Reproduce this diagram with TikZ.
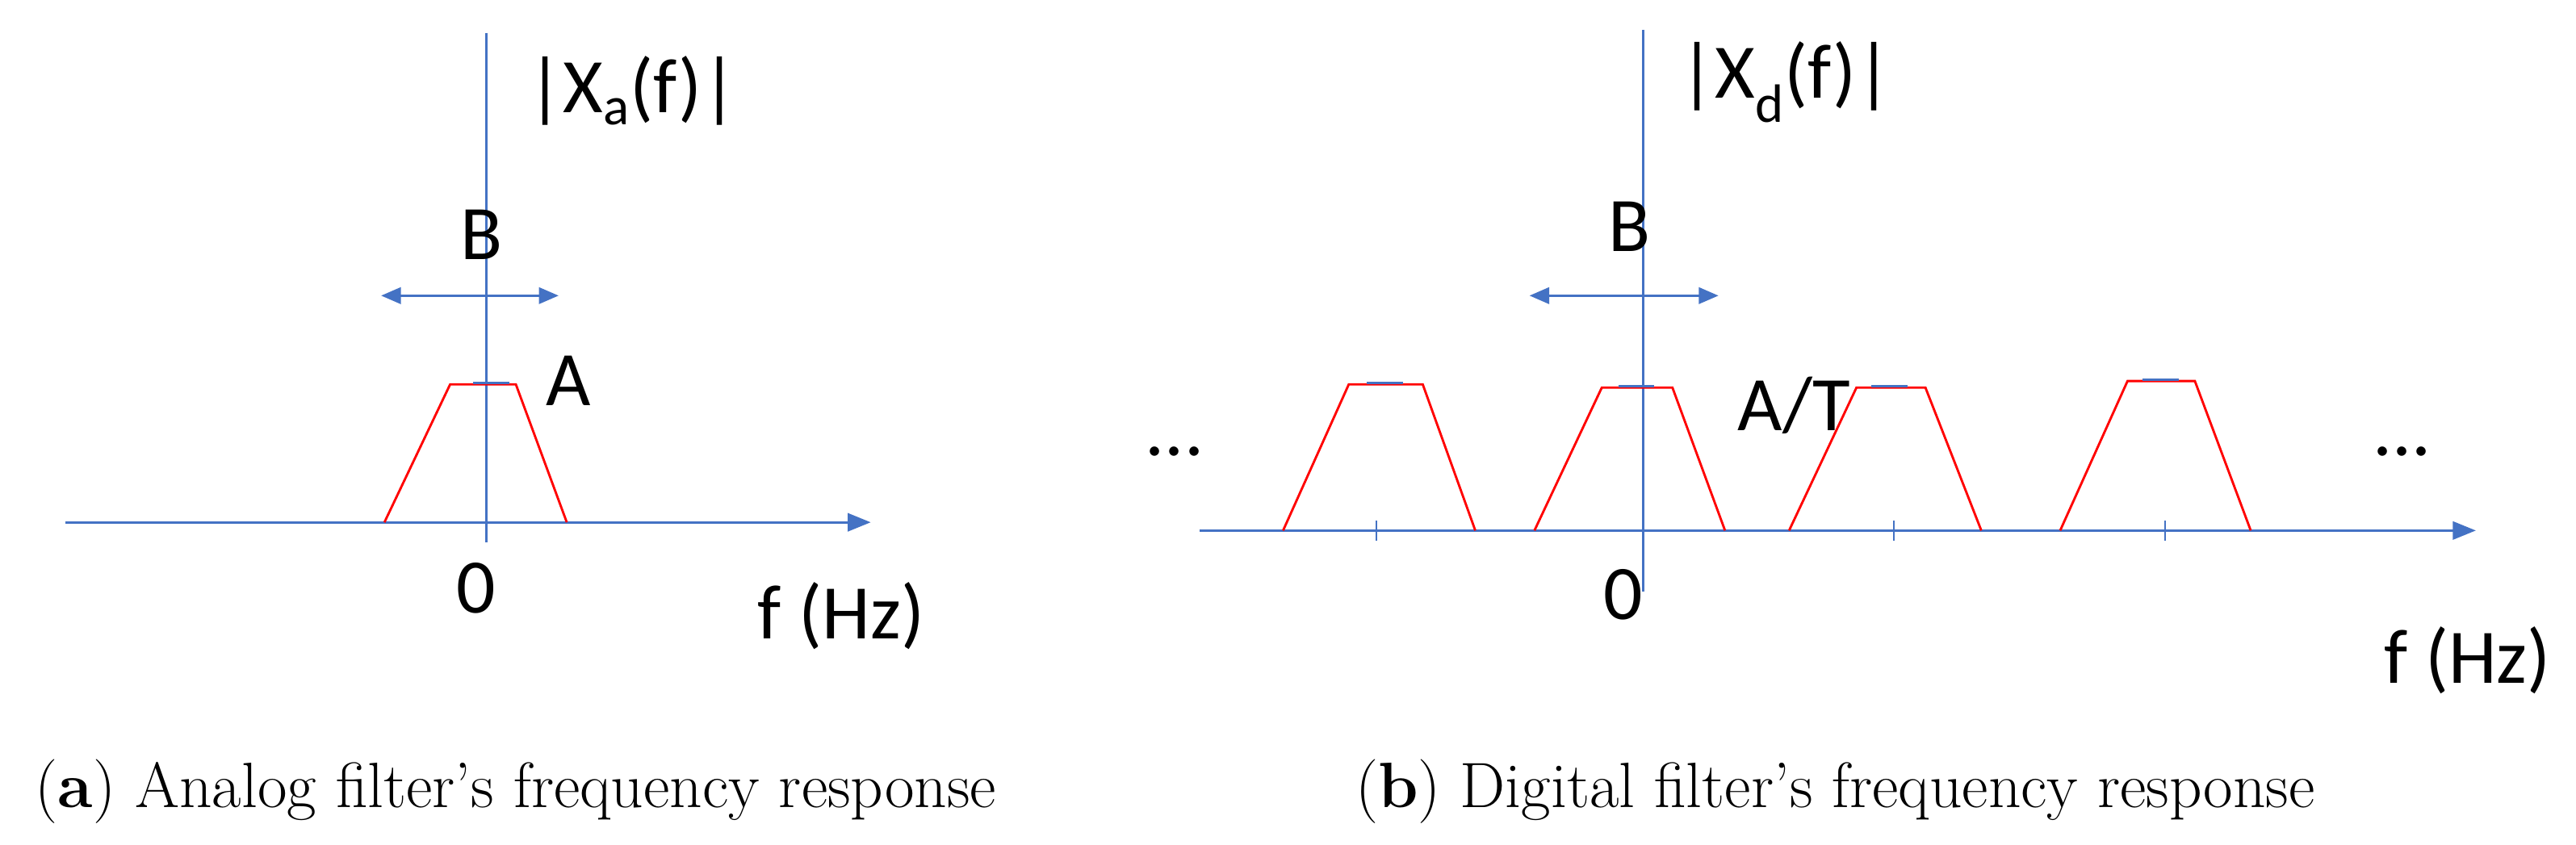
\documentclass[tikz,border=0pt]{standalone}
\usepackage{fontspec}
\newfontfamily\lab{Carlito}
\usetikzlibrary{arrows.meta}
\definecolor{ax}{RGB}{68,114,196}
\begin{document}
\begin{tikzpicture}[x=1pt,y=-1pt,
  axis/.style={ax,line width=1.4pt},
  arr/.style={axis,-{Triangle[length=14pt,width=11pt]}},
  darr/.style={axis,{Triangle[length=12pt,width=10pt]}-{Triangle[length=12pt,width=10pt]}},
  trap/.style={red,line width=1.4pt},
  lbl/.style={font=\lab\fontsize{47}{52}\selectfont,inner sep=0pt},
  captext/.style={font=\fontsize{39}{44}\selectfont,inner sep=0pt}]
\useasboundingbox (0,0) rectangle (1568,514);
% panel a
\coordinate (a0) at (40,318); \coordinate (a1) at (530,318);
\draw[arr] (a0) -- (a1);
\coordinate (av0) at (296,20); \coordinate (av1) at (296,330);
\draw[axis] (av0) -- (av1);
\draw[trap] (234,318) -- (274,234) -- (314,234) -- (345,318);
\draw[axis] (288,233) -- (310,233);
\coordinate (ba0) at (232,180); \coordinate (ba1) at (340,180);
\draw[darr] (ba0) -- (ba1);
\node[lbl] (xa) at (385,55) {|X\textsubscript{a}(f)|};
\node[lbl] (Ba) at (293,143) {B};
\node[lbl] (Aa) at (346,232) {A};
\node[lbl] (za) at (290,358) {0};
\node[lbl] (fa) at (512,375) {f (Hz)};
\node[captext] (ca) at (314,482) {(\textbf{a}) Analog filter’s frequency response};
% panel b
\coordinate (b0) at (730,323); \coordinate (b1) at (1507,323);
\draw[arr] (b0) -- (b1);
\coordinate (bv0) at (1000,18); \coordinate (bv1) at (1000,360);
\draw[axis] (bv0) -- (bv1);
\draw[trap] (781,323) -- (821,234) -- (866,234) -- (898,323);
\draw[trap] (934,323) -- (975,236) -- (1018,236) -- (1050,323);
\draw[trap] (1089,323) -- (1130,236) -- (1172,236) -- (1206,323);
\draw[trap] (1254,323) -- (1295,232) -- (1336,232) -- (1370,323);
\foreach \x in {838,1153,1318} \draw[axis,line width=1pt] (\x,317) -- (\x,329);
\foreach \x/\y in {843/233,996/235,1150/235,1315/231} \draw[axis] (\x-11,\y) -- (\x+11,\y);
\coordinate (bb0) at (931,180); \coordinate (bb1) at (1046,180);
\draw[darr] (bb0) -- (bb1);
\node[lbl] (xd) at (1087,50) {|X\textsubscript{d}(f)|};
\node[lbl] (Bb) at (992,138) {B};
\node[lbl] (Ab) at (1092,247) {A/T};
\node[lbl] (zb) at (988,362) {0};
\node[lbl] (fb) at (1502,402) {f (Hz)};
\node[lbl] (d1) at (715,275) {...};
\node[lbl] (d2) at (1462,275) {...};
\node[captext] (cb) at (1117,482) {(\textbf{b}) Digital filter’s frequency response};
\end{tikzpicture}
\end{document}
